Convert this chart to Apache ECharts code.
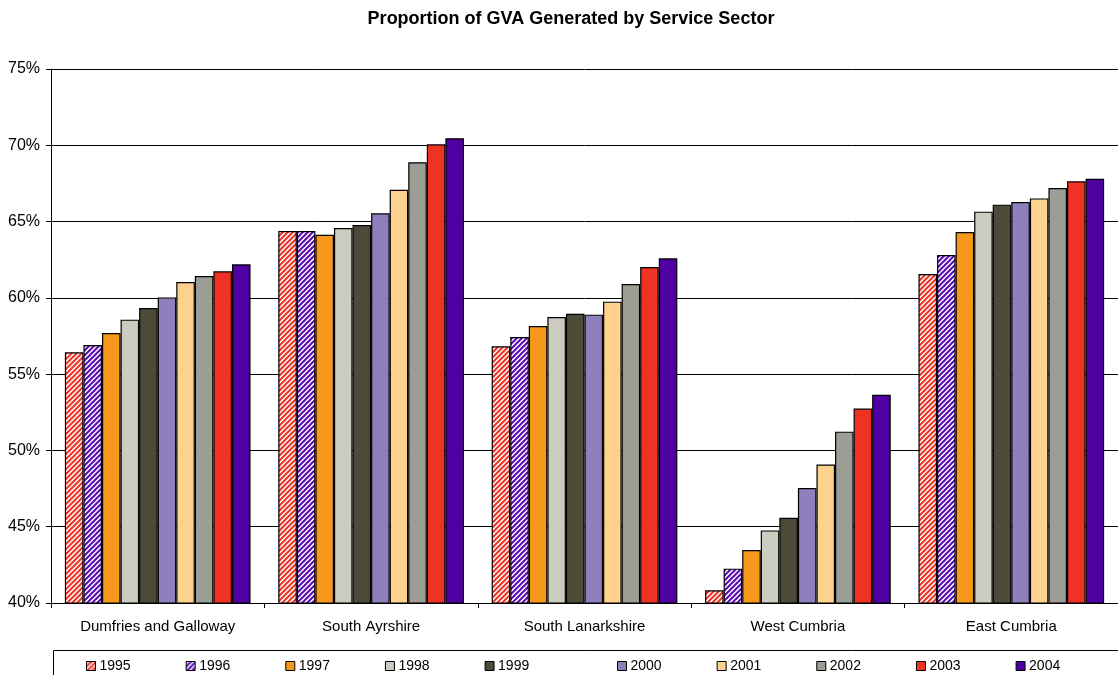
<!DOCTYPE html>
<html>
<head>
<meta charset="utf-8">
<title>Proportion of GVA Generated by Service Sector</title>
<script src="https://cdn.jsdelivr.net/npm/echarts@6/dist/echarts.min.js"></script>
<style>
  html, body { margin: 0; padding: 0; background: #fff; }
  #chart { width: 1118px; height: 675px; }
</style>
</head>
<body>
<div id="chart"></div>
<script>
// Regions along the category axis
const regions = ['Dumfries and Galloway', 'South Ayrshire', 'South Lanarkshire', 'West Cumbria', 'East Cumbria'];

// Service sector share of GVA (%), one array per year, in region order
const y1995 = [56.43, 64.38, 56.82, 40.83, 61.56];
const y1996 = [56.91, 64.38, 57.43, 42.25, 62.81];
const y1997 = [57.70, 64.14, 58.16, 43.47, 64.32];
const y1998 = [58.57, 64.58, 58.75, 44.76, 65.65];
const y1999 = [59.34, 64.78, 58.96, 45.59, 66.11];
const y2000 = [60.03, 65.54, 58.90, 47.54, 66.28];
const y2001 = [61.04, 67.09, 59.75, 49.07, 66.52];
const y2002 = [61.43, 68.88, 60.91, 51.23, 67.20];
const y2003 = [61.74, 70.06, 62.02, 52.74, 67.64];
const y2004 = [62.20, 70.46, 62.59, 53.65, 67.81];

const years = ['1995', '1996', '1997', '1998', '1999', '2000', '2001', '2002', '2003', '2004'];
const yearValues = [y1995, y1996, y1997, y1998, y1999, y2000, y2001, y2002, y2003, y2004];

// Value axis ticks
const yMin = 40, yMax = 75, yStep = 5;

const FONT = 'Arial, "Liberation Sans", sans-serif';

// Diagonal hatching (coloured stripes on white), bottom-left to top-right
function hatchTile(base) {
  const size = 5;
  const c = document.createElement('canvas');
  c.width = size; c.height = size;
  const ctx = c.getContext('2d');
  ctx.fillStyle = '#ffffff';
  ctx.fillRect(0, 0, size, size);
  ctx.strokeStyle = base;
  ctx.lineWidth = 2;
  [0, size, size * 2].forEach(function (s) {
    ctx.beginPath();
    ctx.moveTo(s - size - 1, size + 1);
    ctx.lineTo(s + 1, -1);
    ctx.stroke();
  });
  return { image: c, repeat: 'repeat' };
}

const colors = [
  hatchTile('#EE3224'),
  hatchTile('#5A0AB4'),
  '#F7981D',
  '#CBCBBF',
  '#4C4B39',
  '#8D80BD',
  '#FED18F',
  '#9C9D95',
  '#EE3224',
  '#5000A0'
];

const series = years.map(function (yr, i) {
  return {
    name: yr,
    type: 'bar',
    data: yearValues[i],
    barGap: '0%',
    barCategoryGap: '13%',
    itemStyle: { color: colors[i], borderColor: '#000', borderWidth: 1.2 },
    emphasis: { disabled: true }
  };
});

const legendCommon = {
  orient: 'horizontal',
  top: 654,
  itemWidth: 9,
  itemHeight: 9,
  itemGap: 55,
  icon: 'rect',
  selectedMode: false,
  textStyle: { fontFamily: FONT, fontSize: 14, color: '#000', padding: [0, 0, 0, -1] },
  itemStyle: { borderColor: '#000', borderWidth: 1 }
};

const chart = echarts.init(document.getElementById('chart'), null, { renderer: 'canvas' });
chart.setOption({
  animation: false,
  backgroundColor: '#fff',
  title: {
    text: 'Proportion of GVA Generated by Service Sector',
    left: 566,
    textAlign: 'center',
    top: 5,
    textStyle: { fontFamily: FONT, fontSize: 18, fontWeight: 'bold', color: '#000' }
  },
  legend: [
    Object.assign({}, legendCommon, { left: 81, data: years.slice(0, 5) }),
    Object.assign({}, legendCommon, { left: 612, data: years.slice(5) })
  ],
  graphic: [{
    type: 'rect',
    shape: { x: 53.5, y: 650.5, width: 1100, height: 60 },
    style: { fill: 'none', stroke: '#000', lineWidth: 1 },
    silent: true,
    z: 0
  }],
  grid: { left: 51, right: 0, top: 69, bottom: 72, containLabel: false },
  xAxis: {
    type: 'category',
    data: regions,
    axisLine: { show: true, lineStyle: { color: '#000', width: 1 } },
    axisTick: { show: true, length: 5, lineStyle: { color: '#000' } },
    axisLabel: { fontFamily: FONT, fontSize: 15, color: '#000', margin: 16 }
  },
  yAxis: {
    type: 'value',
    min: yMin,
    max: yMax,
    interval: yStep,
    axisLine: { show: true, lineStyle: { color: '#000', width: 1 } },
    axisTick: { show: true, length: 5, lineStyle: { color: '#000' } },
    axisLabel: { fontFamily: FONT, fontSize: 16, color: '#000', margin: 11, formatter: '{value}%' },
    splitLine: { show: true, lineStyle: { color: '#000', width: 1 } }
  },
  series: series
});
</script>
</body>
</html>
